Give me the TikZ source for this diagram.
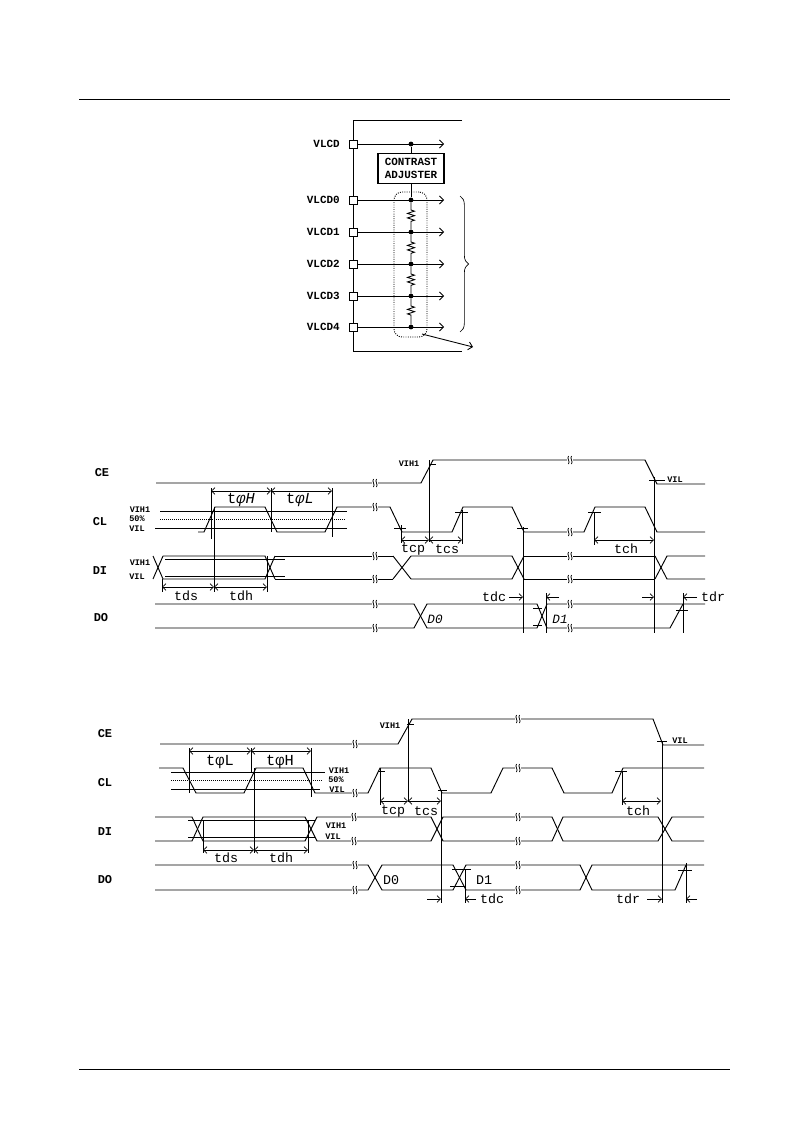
\documentclass[tikz,border=0pt]{standalone}
\usepackage{fontspec}
\newfontfamily\typefont{Liberation Mono}
\usetikzlibrary{arrows.meta,decorations.pathmorphing,decorations.pathreplacing}

\begin{document}
\begin{tikzpicture}[
    x=0.75pt,y=-0.75pt,
    sig/.style={line width=0.7pt,black},
    guide/.style={line width=0.5pt,black},
    dotguide/.style={line width=0.5pt,densely dotted,black},
    dim/.style={line width=0.5pt,black,{Straight Barb[length=2.6pt,width=5pt]}-{Straight Barb[length=2.6pt,width=5pt]}},
    pointer/.style={line width=0.5pt,black,-{Straight Barb[length=2.6pt,width=5pt]}},
    feed/.style={line width=0.65pt,black,-{Straight Barb[length=3pt,width=6pt]}},
    pad/.style={rectangle,draw,line width=0.7pt,fill=white,minimum size=6pt,inner sep=0pt},
    joint/.style={circle,fill=black,minimum size=3.6pt,inner sep=0pt},
    pinlabel/.style={left,inner sep=0pt,font=\typefont\bfseries\fontsize{8.2}{9}\selectfont},
    siglabel/.style={inner sep=0pt,font=\typefont\bfseries\fontsize{9}{10}\selectfont},
    tlabel/.style={inner sep=0pt,font=\typefont\fontsize{10}{11}\selectfont},
    philabel/.style={inner sep=0pt,font=\typefont\fontsize{11.5}{12}\selectfont},
    levlabel/.style={inner sep=0pt,font=\typefont\bfseries\fontsize{6.4}{7}\selectfont},
    res/.style={line width=0.65pt,decorate,decoration={zigzag,amplitude=2.6pt,segment length=3.4pt,pre length=5.5pt,post length=5.5pt}},
    gap/.pic={
        \fill[white] (-3,-4) rectangle (3,4);
        \draw[line width=0.6pt] (-1.5,-4) .. controls (-3.5,-1.5) and (0.5,1.5) .. (-1.5,4);
        \draw[line width=0.6pt] (1.5,-4) .. controls (-0.5,-1.5) and (3.5,1.5) .. (1.5,4);
    }
]
\useasboundingbox (0,0) rectangle (793,1121);

% Page rules
\draw[line width=0.7pt] (79,99) -- (730,99);
\draw[line width=0.7pt] (79,1069) -- (730,1069);

% Chip outline
\draw[sig] (462,120) -- (353,120) -- (353,351) -- (462,351);

% Contrast adjuster
\node[rectangle,draw,line width=0.8pt,minimum width=49.5pt,minimum height=23pt,inner sep=0pt,align=center,
      font=\typefont\bfseries\fontsize{8.2}{10}\selectfont] (adj) at (411,168.5) {CONTRAST\\ADJUSTER};

% Pads and feeds
\foreach \name/\txt/\y in {v/VLCD/144,va/VLCD0/200,vb/VLCD1/232,vc/VLCD2/264,vd/VLCD3/296,ve/VLCD4/327} {
    \node[pad] (\name) at (353,\y) {};
    \node[pinlabel] (\name lab) at (340,\y) {\txt};
    \node[joint] (\name dot) at (411,\y) {};
    \coordinate (\name end) at (444,\y);
    \draw[feed] (\name) -- (\name end);
}
\draw[sig] (vdot) -- (adj);
\draw[sig] (adj) -- (vadot);
\foreach \a/\b in {va/vb,vb/vc,vc/vd,vd/ve} {
    \draw[res] (\a dot) -- (\b dot);
}

% Dotted box, brace
\node[rectangle,draw,densely dotted,line width=0.7pt,rounded corners=6pt,minimum width=24.75pt,minimum height=108.75pt,inner sep=0pt] (ladder) at (410.5,264.5) {};
\coordinate (out) at (473,347);
\draw[feed] (422,334) -- (out);
\draw[line width=0.5pt,decorate,decoration={brace,amplitude=6.5pt}] (460,196) -- (460,332);

% ---------- First timing diagram ----------
\node[siglabel] (cea) at (102,473) {CE};
\node[siglabel] (cla) at (100,522) {CL};
\node[siglabel] (dia) at (100,571) {DI};
\node[siglabel] (doa) at (101,618) {DO};

% CE
\draw[sig] (156,483) -- (421,483) -- (433,460) -- (645,460) -- (657,484) -- (705,484);
\pic at (375,483) {gap};
\pic at (570,460) {gap};

% CL levels
\draw[guide] (160,511) -- (347,511);
\draw[guide] (155,528) -- (347,528);
\draw[dotguide] (160,519) -- (345,519);
\node[levlabel] (lva) at (140,510) {VIH1};
\node[levlabel] (lvb) at (137,519) {50\%};
\node[levlabel] (lvc) at (137,529) {VIL};

% CL
\draw[sig] (198,532) -- (204,532) -- (215,507) -- (265,507) -- (277,532) -- (325,532) -- (337,507)
    -- (390,507) -- (402,532) -- (452,532) -- (463,507) -- (512,507) -- (524,532) -- (584,532)
    -- (595,507) -- (645,507) -- (657,532) -- (705,532);
\pic at (375,507) {gap};
\pic at (570,532) {gap};

% DI
\foreach \xa/\xb/\xc/\xd in {163/265/275/393,411/512/524/655} {
    \draw[sig] (\xa,556) -- (\xb,556) -- (\xc,579);
    \draw[sig] (\xa,579) -- (\xb,579) -- (\xc,556);
    \draw[sig] (\xc,556) -- (\xd,556);
    \draw[sig] (\xc,579) -- (\xd,579);
}
\draw[sig] (153,579) -- (163,556);
\draw[sig] (153,556) -- (163,579);
\draw[sig] (393,556) -- (411,579);
\draw[sig] (393,579) -- (411,556);
\draw[sig] (655,556) -- (667,579) -- (705,579);
\draw[sig] (655,579) -- (667,556) -- (705,556);
\draw[guide] (165,559) -- (285,559);
\draw[guide] (165,576) -- (285,576);
\node[levlabel] (lvd) at (140,563) {VIH1};
\node[levlabel] (lve) at (137,577) {VIL};
\foreach \x/\y in {375/556,375/579,570/556,570/579} {
    \pic at (\x,\y) {gap};
}

% DO
\draw[sig] (155,604) -- (414,604) -- (427,628) -- (537,628) -- (547,604) -- (705,604);
\draw[sig] (155,628) -- (414,628) -- (427,604) -- (537,604) -- (547,628) -- (670,628) -- (683,604);
\foreach \x/\y in {375/604,375/628,570/604,570/628} {
    \pic at (\x,\y) {gap};
}
\node[tlabel,font=\typefont\itshape\fontsize{9.5}{10}\selectfont] (dza) at (435,619) {D0};
\node[tlabel,font=\typefont\itshape\fontsize{9.5}{10}\selectfont] (dya) at (560,619) {D1};

% Timing marks, left
\draw[guide] (211,488) -- (211,539);
\draw[guide] (271,488) -- (271,532);
\draw[guide] (332,488) -- (332,537);
\draw[guide] (214,507) -- (214,592);
\draw[guide] (162,579) -- (162,592);
\draw[guide] (267,556) -- (267,592);
\draw[dim] (211,491) -- (271,491);
\draw[dim] (271,491) -- (332,491);
\draw[dim] (162,587) -- (214,587);
\draw[dim] (214,587) -- (267,587);
\node[philabel] (pha) at (241,500) {t{\itshape φH}};
\node[philabel] (pla) at (300,500) {t{\itshape φL}};
\node[tlabel] (tsa) at (186,596) {tds};
\node[tlabel] (tha) at (241,596) {tdh};

% Timing marks, right
\draw[guide] (429,460) -- (429,542);
\draw[guide] (429,464) -- (436,464);
\node[levlabel] (lvf) at (409,464) {VIH1};
\draw[guide] (401,525) -- (401,543);
\draw[guide] (394,528) -- (406,528);
\draw[guide] (462,510) -- (462,544);
\draw[guide] (455,512) -- (468,512);
\draw[guide] (594,512) -- (594,545);
\draw[guide] (588,512) -- (601,512);
\draw[guide] (654,477) -- (654,633);
\draw[guide] (649,480) -- (665,480);
\node[levlabel] (lvg) at (675,480) {VIL};
\draw[dim] (401,540) -- (429,540);
\draw[dim] (429,540) -- (462,540);
\draw[dim] (594,540) -- (654,540);
\node[tlabel] (tpa) at (413,549) {tcp};
\node[tlabel] (tca) at (447,549) {tcs};
\node[tlabel] (tna) at (626,549) {tch};
\draw[guide] (523,527) -- (523,633);
\draw[guide] (517,528) -- (528,528);
\draw[guide] (546,593) -- (546,633);
\draw[guide] (533,608) -- (542,608);
\draw[guide] (533,625) -- (542,625);
\draw[guide] (683,593) -- (683,633);
\draw[guide] (676,610) -- (688,610);
\node[tlabel] (tda) at (494,597) {tdc};
\draw[pointer] (509,597) -- (523,597);
\draw[pointer] (559,597) -- (546,597);
\draw[pointer] (642,597) -- (654,597);
\draw[pointer] (697,597) -- (683,597);
\node[tlabel] (tra) at (713,597) {tdr};

% ---------- Second timing diagram ----------
\node[siglabel] (ceb) at (105,734) {CE};
\node[siglabel] (clb) at (105,783) {CL};
\node[siglabel] (dib) at (105,832) {DI};
\node[siglabel] (dob) at (105,880) {DO};

% CE
\draw[sig] (160,744) -- (398,744) -- (412,719) -- (653,719) -- (663,745) -- (704,745);
\pic at (355,744) {gap};
\pic at (518,719) {gap};

% CL levels
\draw[guide] (171,772) -- (325,772);
\draw[guide] (171,789) -- (320,789);
\draw[dotguide] (171,780) -- (323,780);
\node[levlabel] (lvh) at (339,771) {VIH1};
\node[levlabel] (lvi) at (336,780) {50\%};
\node[levlabel] (lvj) at (337,790) {VIL};

% CL
\draw[sig] (159,768) -- (183,768) -- (196,793) -- (244,793) -- (256,768) -- (303,768) -- (315,793)
    -- (368,793) -- (380,768) -- (431,768) -- (442,793) -- (491,793) -- (503,768) -- (552,768)
    -- (564,793) -- (612,793) -- (623,768) -- (704,768);
\pic at (355,793) {gap};
\pic at (518,768) {gap};

% DI
\draw[sig] (155,817) -- (192,817) -- (203,841) -- (305,841) -- (317,817) -- (431,817) -- (443,841)
    -- (552,841) -- (563,817) -- (658,817) -- (672,841) -- (704,841);
\draw[sig] (155,841) -- (192,841) -- (203,817) -- (305,817) -- (317,841) -- (431,841) -- (443,817)
    -- (552,817) -- (563,841) -- (658,841) -- (672,817) -- (704,817);
\draw[guide] (188,820) -- (315,820);
\draw[guide] (188,837) -- (315,837);
\node[levlabel] (lvk) at (336,826) {VIH1};
\node[levlabel] (lvl) at (333,837) {VIL};
\foreach \x/\y in {354/817,354/841,518/817,518/841} {
    \pic at (\x,\y) {gap};
}

% DO
\draw[sig] (155,865) -- (368,865) -- (382,890) -- (453,890) -- (466,865) -- (580,865) -- (592,890) -- (675,890) -- (686,865);
\draw[sig] (155,890) -- (368,890) -- (382,865) -- (453,865) -- (466,890) -- (580,890) -- (592,865) -- (704,865);
\foreach \x/\y in {355/865,355/890,518/865,518/890} {
    \pic at (\x,\y) {gap};
}
\node[tlabel] (dzb) at (391,880) {D0};
\node[tlabel] (dyb) at (484,880) {D1};

% Timing marks, left
\draw[guide] (189,748) -- (189,793);
\draw[guide] (251,748) -- (251,772);
\draw[guide] (311,748) -- (311,797);
\draw[guide] (254,768) -- (254,853);
\draw[guide] (203,820) -- (203,853);
\draw[guide] (308,820) -- (308,853);
\draw[dim] (189,751) -- (251,751);
\draw[dim] (251,751) -- (311,751);
\draw[dim] (203,850) -- (254,850);
\draw[dim] (254,850) -- (308,850);
\node[philabel] (phb) at (220,762) {tφL};
\node[philabel] (plb) at (280,762) {tφH};
\node[tlabel] (tsb) at (226,858) {tds};
\node[tlabel] (thb) at (281,858) {tdh};

% Timing marks, right
\draw[guide] (408,719) -- (408,802);
\draw[guide] (407,724) -- (414,724);
\node[levlabel] (lvm) at (390,726) {VIH1};
\draw[guide] (380,768) -- (380,805);
\draw[guide] (378,771) -- (385,771);
\draw[guide] (441,790) -- (441,903);
\draw[guide] (438,790) -- (447,790);
\draw[guide] (622,772) -- (622,805);
\draw[guide] (615,771) -- (627,771);
\draw[guide] (662,741) -- (662,903);
\draw[guide] (657,741) -- (667,741);
\node[levlabel] (lvn) at (680,741) {VIL};
\draw[dim] (380,801) -- (408,801);
\draw[dim] (408,801) -- (441,801);
\draw[dim] (622,801) -- (661,801);
\node[tlabel] (tpb) at (393,811) {tcp};
\node[tlabel] (tcb) at (426,811) {tcs};
\node[tlabel] (tnb) at (638,811) {tch};
\draw[guide] (465,869) -- (465,903);
\draw[guide] (452,869) -- (471,869);
\draw[guide] (450,886) -- (465,886);
\draw[guide] (686,863) -- (686,903);
\draw[guide] (678,870) -- (692,870);
\draw[pointer] (427,899) -- (441,899);
\draw[pointer] (476,899) -- (465,899);
\node[tlabel] (tdb) at (492,899) {tdc};
\node[tlabel] (trb) at (628,899) {tdr};
\draw[pointer] (647,899) -- (662,899);
\draw[pointer] (697,899) -- (686,899);

\end{tikzpicture}
\end{document}
